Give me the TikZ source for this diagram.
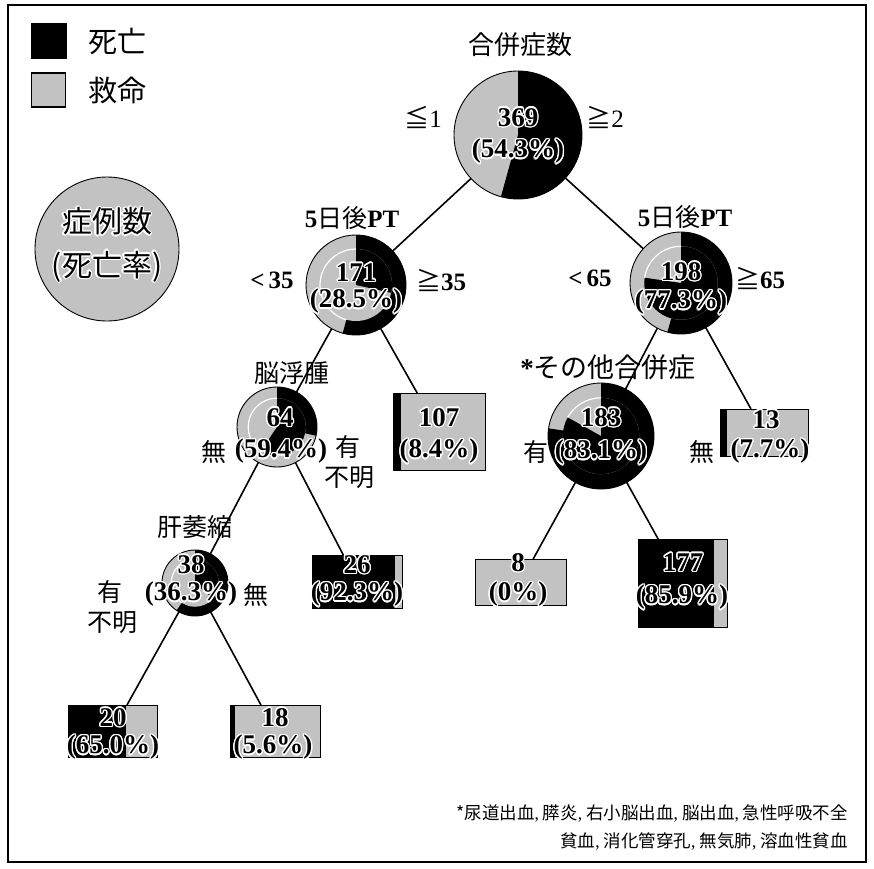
\documentclass[tikz,border=0pt]{standalone}
\usepackage{fontspec}
\setmainfont{Liberation Serif}
\newfontfamily\cjk{Noto Sans CJK JP}
\usepackage{contour}
\contourlength{1.3pt}
\usetikzlibrary{calc}
\definecolor{pgray}{gray}{0.76}
\tikzset{
  conn/.style={line width=1.6pt},
  num/.style={font=\bfseries\fontsize{27}{27}\selectfont, inner sep=0pt},
  jlab/.style={font=\cjk\fontsize{25}{25}\selectfont, inner sep=0pt},
  blab/.style={font=\bfseries\fontsize{25}{25}\selectfont, inner sep=0pt},
  boxn/.style={rectangle, inner sep=0pt, outer sep=0pt},
  pien/.style={circle, inner sep=0pt, outer sep=0pt},
  rim/.style={line width=0.9pt},
}
\newcommand{\twopie}[6]{%
  \node[pien, minimum size=#4*2pt] (#1) at (#2,#3) {};
  \pgfmathsetmacro\ri{0.72*#4}%
  \pgfmathsetmacro\ao{90-360*#5}%
  \pgfmathsetmacro\ai{90-360*#6}%
  \pgfmathsetmacro\aw{90-360*max(#5,#6)}%
  \fill[pgray] (#1.center) circle[radius=#4pt];
  \fill[black] (#1.center) -- ++(90:#4pt) arc[start angle=90, end angle=\ao, radius=#4pt] -- cycle;
  \fill[pgray] (#1.center) circle[radius=\ri pt];
  \fill[black] (#1.center) -- ++(90:\ri pt) arc[start angle=90, end angle=\ai, radius=\ri pt] -- cycle;
  \draw[white, line width=1.2pt] (#1.center) ++(\aw:\ri pt) arc[start angle=\aw, end angle=-270, radius=\ri pt];
  \draw[rim] (#1.center) circle[radius=#4pt];
}
\newcommand{\barbox}[6]{%
  \node[boxn, minimum width=#4pt, minimum height=#5pt] (#1) at (#2,#3) {};
  \fill[pgray] (#1.south west) rectangle (#1.north east);
  \fill[black] (#1.south west) rectangle ($(#1.north west)!#6!(#1.north east)$);
  \draw[rim] (#1.south west) rectangle (#1.north east);
}
\begin{document}
\begin{tikzpicture}[x=1pt, y=-1pt]
\useasboundingbox (0,0) rectangle (874,868);
\fill[white] (0,0) rectangle (874,868);
\draw[line width=1.2pt] (8,5) rectangle (866,862);

% legend
\node[boxn, draw, fill=black, minimum size=35pt] (lsq1) at (48.5,40.5) {};
\node[boxn, draw, line width=1.5pt, fill=pgray, minimum size=34pt] (lsq2) at (48.5,90) {};
\node[jlab, anchor=west, font=\cjk\fontsize{29}{29}\selectfont] (ltx1) at (88,41) {死亡};
\node[jlab, anchor=west, font=\cjk\fontsize{29}{29}\selectfont] (ltx2) at (88,90) {救命};
\node[pien, draw, rim, fill=pgray, minimum size=144pt] (lcirc) at (107,249) {};
\node[jlab, font=\cjk\fontsize{30}{30}\selectfont] (lc1) at (107,222) {\contour{white}{症例数}};
\node[jlab, font=\cjk\fontsize{30}{30}\selectfont] (lc2) at (107,267) {\contour{white}{(死亡率)}};

% root pie
\node[pien, minimum size=128pt] (root) at (518,135) {};
\fill[pgray] (root.center) circle[radius=64pt];
\fill[black] (root.center) -- ++(90:64pt) arc[start angle=90, end angle={90-360*0.543}, radius=64pt] -- cycle;
\draw[rim] (root.center) circle[radius=64pt];

% pies
\twopie{n171}{356}{285}{50}{0.543}{0.285}
\twopie{n198}{681}{283}{51}{0.543}{0.773}
\twopie{n64}{277}{427}{40}{0.285}{0.594}
\twopie{n183}{601}{436}{53}{0.773}{0.831}
\twopie{n38}{195}{583}{33}{0.594}{0.363}

% boxes
\barbox{b107}{439}{431.5}{92}{77}{0.084}
\barbox{b13}{764}{432.5}{88}{47}{0.077}
\barbox{b26}{357}{581.5}{90}{53}{0.923}
\barbox{b8}{520.5}{582}{91}{46}{0.0}
\barbox{b177}{682.5}{583}{89}{88}{0.859}
\barbox{b20}{112.5}{731}{89}{52}{0.65}
\barbox{b18}{275}{731}{90}{52}{0.056}

% connectors
\draw[conn] (root) -- (n171);
\draw[conn] (root) -- (n198);
\draw[conn] (n171) -- (n64);
\draw[conn] (n171) -- (b107);
\draw[conn] (n198) -- (n183);
\draw[conn] (n198) -- (b13);
\draw[conn] (n64) -- (n38);
\draw[conn] (n64) -- (b26);
\draw[conn] (n183) -- (b8);
\draw[conn] (n183) -- (b177);
\draw[conn] (n38) -- (b20);
\draw[conn] (n38) -- (b18);

% root labels
\node[jlab, font=\cjk\fontsize{26}{26}\selectfont] (lroot) at (520,45) {合併症数};
\node[font=\fontsize{25}{25}\selectfont, inner sep=0pt] (le1) at (423,117) {{\cjk ≦}1};
\node[font=\fontsize{25}{25}\selectfont, inner sep=0pt] (ge2) at (605,117) {{\cjk ≧}2};
\node[num] (t369) at (518,118) {\contour{white}{369}};
\node[num] (p369) at (518,152) {\contour{white}{(54.3\%)}};

% 171
\node[blab] (lab171) at (352,218) {5{\cjk\mdseries 日後}PT};
\node[blab] (lt35) at (272,280) {<\,35};
\node[blab] (ge35) at (441,280) {{\cjk\mdseries ≧}35};
\node[num] (t171) at (356,273) {\contour{white}{171}};
\node[num] (p171) at (356,302) {\contour{white}{(28.5\%)}};

% 198
\node[blab] (lab198) at (685,217) {5{\cjk\mdseries 日後}PT};
\node[blab] (lt65) at (590,278) {<\,65};
\node[blab] (ge65) at (760,278) {{\cjk\mdseries ≧}65};
\node[num] (t198) at (681,272) {\contour{white}{198}};
\node[num] (p198) at (681,303) {\contour{white}{(77.3\%)}};

% 64
\node[jlab] (lab64) at (292,373) {脳浮腫};
\node[num] (t64) at (280,418) {\contour{white}{64}};
\node[num] (p64) at (281,452) {\contour{white}{(59.4\%)}};
\node[jlab] (no64) at (214,452) {無};
\node[jlab] (yes64) at (348,447) {有};
\node[jlab] (unk64) at (349,478) {不明};

% 107
\node[num] (t107) at (439,418) {\contour{white}{107}};
\node[num] (p107) at (439,452) {\contour{white}{(8.4\%)}};

% 183
\node[jlab, font=\cjk\fontsize{27}{27}\selectfont] (lab183) at (608,367) {{\rmfamily\bfseries *}その他合併症};
\node[num] (t183) at (601,418) {\contour{white}{183}};
\node[num] (p183) at (601,453) {\contour{white}{(83.1\%)}};
\node[jlab] (yes183) at (536,452) {有};

% 13
\node[num] (t13) at (766,420) {\contour{white}{13}};
\node[num] (p13) at (770,452) {\contour{white}{(7.7\%)}};
\node[jlab] (no13) at (702,452) {無};

% 38
\node[jlab] (lab38) at (195,527) {肝萎縮};
\node[num] (t38) at (191,565) {\contour{white}{38}};
\node[num] (p38) at (191,595) {\contour{white}{(36.3\%)}};
\node[jlab] (no38) at (256,595) {無};
\node[jlab] (yes38) at (110,592) {有};
\node[jlab] (unk38) at (112,623) {不明};

% bottom boxes text
\node[num] (t26) at (357,565) {\contour{white}{26}};
\node[num] (p26) at (357,595) {\contour{white}{(92.3\%)}};
\node[num] (t8) at (518,563) {\contour{white}{8}};
\node[num] (p8) at (518,595) {\contour{white}{(0\%)}};
\node[num] (t177) at (683,563) {\contour{white}{177}};
\node[num] (p177) at (682,598) {\contour{white}{(85.9\%)}};
\node[num] (t20) at (113,718) {\contour{white}{20}};
\node[num] (p20) at (113,748) {\contour{white}{(65.0\%)}};
\node[num] (t18) at (275,718) {\contour{white}{18}};
\node[num] (p18) at (273,748) {\contour{white}{(5.6\%)}};

% footnote
\node[jlab, anchor=east, font=\cjk\fontsize{17.5}{17.5}\selectfont] (note1) at (848,813) {*尿道出血{\rmfamily,} 膵炎{\rmfamily,} 右小脳出血{\rmfamily,} 脳出血{\rmfamily,} 急性呼吸不全};
\node[jlab, anchor=east, font=\cjk\fontsize{17.5}{17.5}\selectfont] (note2) at (848,841) {貧血{\rmfamily,} 消化管穿孔{\rmfamily,} 無気肺{\rmfamily,} 溶血性貧血};
\end{tikzpicture}
\end{document}
